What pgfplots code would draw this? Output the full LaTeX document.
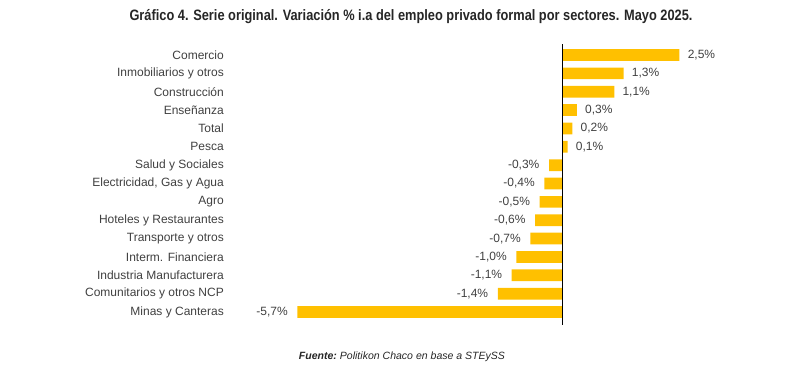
\documentclass[border=0pt]{standalone}
\usepackage{fontspec}
\setmainfont{Liberation Sans}
\newfontfamily\narrowfont[FakeStretch=0.85]{Liberation Sans}
\usepackage{pgfplots}
\pgfplotsset{compat=1.18}
\usepackage{pgfplotstable}
\definecolor{gold}{HTML}{FFC000}
\definecolor{txt}{HTML}{404040}
\definecolor{ttl}{HTML}{262626}

\pgfplotstableread{
y x lab
14 2.5 2,5
13 1.3 1,3
12 1.1 1,1
11 0.3 0,3
10 0.2 0,2
9 0.1 0,1
}\pos
\pgfplotstableread{
y x lab
8 -0.3 -0,3
7 -0.4 -0,4
6 -0.5 -0,5
5 -0.6 -0,6
4 -0.7 -0,7
3 -1.0 -1,0
2 -1.1 -1,1
1 -1.4 -1,4
0 -5.7 -5,7
}\neg

\begin{document}
\begin{tikzpicture}[x=1pt,y=1pt]
\path[use as bounding box] (0,0) rectangle (600,282);
\begin{axis}[
  at={(212.55pt,38.36pt)}, anchor=south west,
  scale only axis, width=314.55pt, height=210.64pt,
  xmin=-6, xmax=3, ymin=-0.7, ymax=14.6,
  axis lines=left, axis line style={draw=none},
  xtick=\empty,
  ytick={0,...,14},
  yticklabels={Minas y Canteras, Comunitarios y otros NCP, Industria Manufacturera, Interm. Financiera, Transporte y otros, Hoteles y Restaurantes, Agro, {Electricidad, Gas y Agua}, Salud y Sociales, Pesca, Total, Enseñanza, Construcción, Inmobiliarios y otros, Comercio},
  major tick length=0pt,
  yticklabel style={font=\fontsize{9}{10}\selectfont, text=txt, anchor=east, inner sep=0pt, xshift=-44.5pt},
  clip=false,
]
\addplot[xbar, bar width=8.8pt, bar shift=0pt, fill=gold, draw=none,
  point meta=explicit symbolic, nodes near coords={\pgfplotspointmeta\%},
  every node near coord/.append style={font=\fontsize{9}{10}\selectfont, text=txt, inner sep=0pt, anchor=west, xshift=6pt}]
  table[x=x, y=y, meta=lab] {\pos};
\addplot[xbar, bar width=8.8pt, bar shift=0pt, fill=gold, draw=none,
  point meta=explicit symbolic, nodes near coords={\pgfplotspointmeta\%},
  every node near coord/.append style={font=\fontsize{9}{10}\selectfont, text=txt, inner sep=0pt, anchor=east, xshift=-7pt}]
  table[x=x, y=y, meta=lab] {\neg};
\addplot[black, line width=0.75pt, no markers] coordinates {(0,-0.7) (0,14.6)};
\end{axis}
\node[font=\narrowfont\bfseries\fontsize{11.3}{13}\selectfont, text=ttl] at (308.25,269.25) {Gráfico 4. Serie original. Variación \% i.a del empleo privado formal por sectores. Mayo 2025.};
\node[font=\fontsize{7.9}{9}\selectfont, text=ttl] at (301.5,14.25) {\itshape\bfseries Fuente:\ \mdseries Politikon Chaco en base a STEySS};
\end{tikzpicture}
\end{document}
